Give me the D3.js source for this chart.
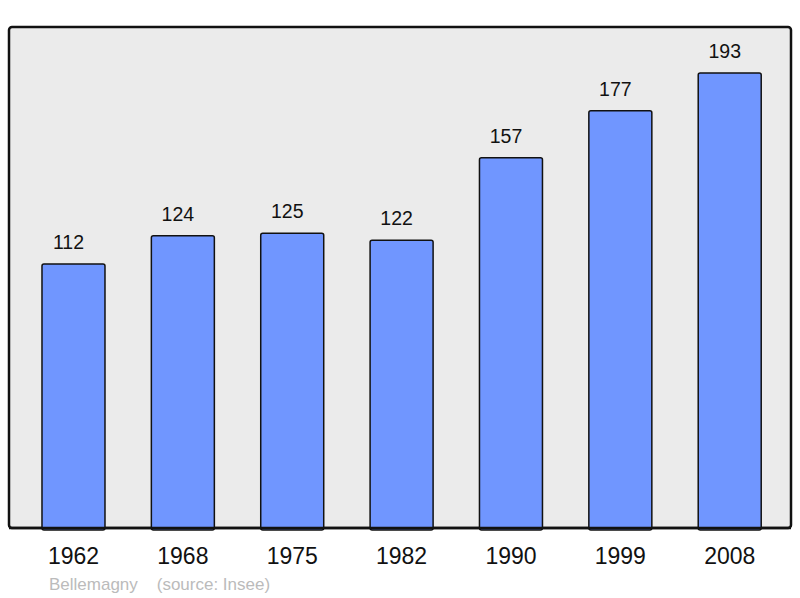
<!DOCTYPE html>
<html>
<head>
<script src="https://d3js.org/d3.v7.min.js"></script>
<style>
  body { margin: 0; background: #fff; }
  text { font-family: "Liberation Sans", Arial, sans-serif; }
</style>
</head>
<body>
<script>
var years = ["1962", "1968", "1975", "1982", "1990", "1999", "2008"];
var population = [112, 124, 125, 122, 157, 177, 193];
var place = "Bellemagny";
var source = "(source: Insee)";

var width = 800, height = 598;

var svg = d3.select("body").append("svg")
  .attr("width", width)
  .attr("height", height);

// frame
svg.append("rect")
  .attr("x", 9).attr("y", 27)
  .attr("width", 782).attr("height", 501)
  .attr("rx", 3)
  .attr("fill", "#ebebeb")
  .attr("stroke", "#111")
  .attr("stroke-width", 2.5);

var x = d3.scaleBand()
  .domain(years)
  .range([18.8, 784.4])
  .paddingInner(0.424)
  .paddingOuter(0.212);

var y = d3.scaleLinear()
  .domain([0, 212.5])
  .range([528, 27]);

var bars = svg.selectAll("g.bar")
  .data(population)
  .enter().append("g")
  .attr("class", "bar");

bars.append("rect")
  .attr("x", function(d, i) { return x(years[i]); })
  .attr("y", function(d) { return y(d); })
  .attr("width", x.bandwidth())
  .attr("height", function(d) { return y(0) - y(d) + 2; })
  .attr("rx", 2)
  .attr("fill", "#7096ff")
  .attr("stroke", "#111")
  .attr("stroke-width", 1.5);

bars.append("text")
  .attr("x", function(d, i) { return x(years[i]) + x.bandwidth() / 2 - 5; })
  .attr("y", function(d) { return y(d) - 15; })
  .attr("text-anchor", "middle")
  .attr("font-size", 19.5)
  .attr("fill", "#111")
  .text(function(d) { return d; });

// redraw bottom border on top of bars
svg.append("line")
  .attr("x1", 9).attr("x2", 791)
  .attr("y1", 528).attr("y2", 528)
  .attr("stroke", "#111")
  .attr("stroke-width", 2.5);

svg.selectAll("text.year")
  .data(years)
  .enter().append("text")
  .attr("class", "year")
  .attr("x", function(d) { return x(d) + x.bandwidth() / 2; })
  .attr("y", 564)
  .attr("text-anchor", "middle")
  .attr("font-size", 23)
  .attr("fill", "#111")
  .text(function(d) { return d; });

svg.append("text")
  .attr("x", 49).attr("y", 590)
  .attr("font-size", 17)
  .attr("fill", "#bbbbbb")
  .attr("xml:space", "preserve")
  .style("white-space", "pre")
  .text(place + "    " + source);
</script>
</body>
</html>
